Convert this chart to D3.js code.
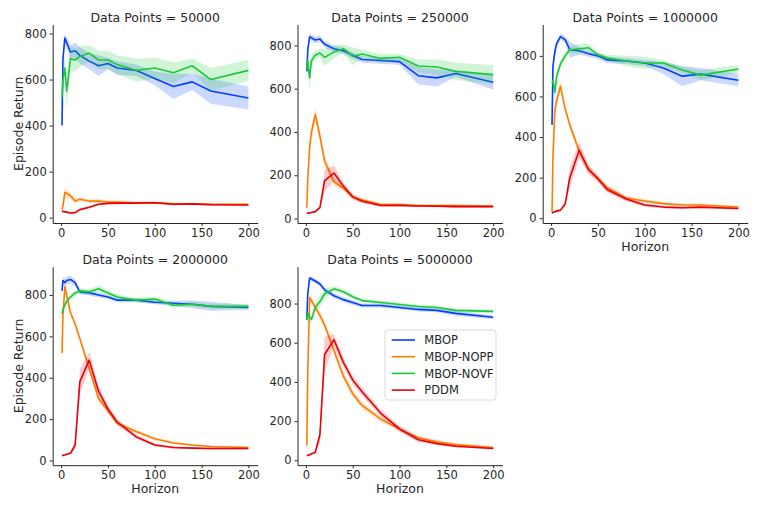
<!DOCTYPE html>
<html>
<head>
<meta charset="utf-8">
<script src="https://cdn.jsdelivr.net/npm/d3@7"></script>
<style>
  body { margin: 0; background: #fff; }
  svg { font-family: "DejaVu Sans", sans-serif; }
</style>
</head>
<body>
<div id="container"></div>
<script>
// horizon values on the x axis
const horizons = [1, 2, 4, 6, 10, 15, 20, 30, 40, 50, 60, 80, 100, 120, 140, 160, 200];
const dataPoints = ["50000", "250000", "1000000", "2000000", "5000000"];
const methods = ["MBOP", "MBOP-NOPP", "MBOP-NOVF", "PDDM"];
const colors = ["#023eff", "#ff7c00", "#1ac938", "#e8000b"];

// one row per panel (50000, 250000, 1000000, 2000000, 5000000)
const mbopMean = [
  [400, 690, 780, 760, 720, 725, 705, 680, 660, 670, 650, 640, 605, 570, 590, 550, 520],
  [680, 780, 840, 835, 825, 830, 805, 785, 775, 755, 735, 730, 725, 660, 650, 670, 630],
  [460, 750, 820, 860, 895, 880, 830, 825, 810, 800, 780, 775, 765, 740, 700, 710, 680],
  [820, 870, 860, 870, 875, 860, 815, 810, 800, 790, 775, 775, 765, 760, 755, 745, 740],
  [720, 850, 930, 925, 915, 900, 870, 840, 820, 805, 790, 790, 780, 770, 765, 750, 730]
];
const mbopSpread = [
  [70, 30, 20, 25, 30, 35, 35, 35, 45, 25, 30, 25, 30, 55, 35, 55, 50],
  [40, 20, 15, 15, 15, 15, 15, 15, 15, 15, 15, 15, 15, 40, 40, 15, 35],
  [100, 40, 30, 20, 15, 15, 40, 20, 15, 15, 15, 15, 15, 30, 50, 30, 30],
  [15, 15, 18, 18, 18, 15, 12, 12, 12, 10, 10, 10, 10, 12, 18, 22, 12],
  [80, 25, 12, 12, 12, 12, 12, 12, 12, 12, 10, 10, 10, 10, 10, 12, 10]
];
const noppMean = [
  [35, 50, 110, 105, 95, 72, 80, 72, 72, 68, 68, 65, 65, 60, 60, 58, 58],
  [50, 180, 330, 400, 480, 380, 265, 170, 140, 100, 85, 65, 65, 60, 60, 60, 58],
  [30, 300, 530, 580, 650, 540, 460, 330, 240, 195, 150, 100, 85, 72, 65, 65, 55],
  [520, 700, 840, 800, 715, 660, 590, 445, 300, 240, 180, 140, 105, 85, 75, 68, 63],
  [75, 450, 830, 815, 780, 740, 690, 560, 430, 340, 280, 210, 160, 115, 95, 80, 65]
];
const noppSpread = [
  [8, 12, 25, 20, 15, 10, 10, 8, 8, 8, 8, 6, 6, 6, 5, 5, 5],
  [8, 20, 25, 30, 35, 30, 25, 20, 15, 12, 10, 8, 8, 6, 6, 6, 5],
  [5, 20, 25, 25, 25, 22, 22, 22, 18, 15, 12, 10, 10, 8, 8, 8, 6],
  [100, 20, 15, 15, 15, 15, 15, 15, 18, 15, 12, 10, 8, 6, 5, 5, 5],
  [30, 30, 20, 20, 20, 20, 20, 25, 25, 20, 18, 15, 12, 10, 10, 8, 6]
];
const novfMean = [
  [520, 600, 650, 550, 690, 685, 700, 715, 685, 685, 665, 640, 650, 630, 660, 600, 640],
  [690, 730, 650, 730, 755, 765, 745, 770, 785, 750, 760, 740, 745, 705, 700, 680, 665],
  [665, 680, 620, 700, 760, 800, 830, 835, 840, 805, 790, 775, 765, 765, 730, 705, 735],
  [710, 730, 750, 770, 790, 810, 820, 815, 830, 810, 790, 775, 780, 750, 755, 745, 745],
  [715, 750, 730, 720, 780, 810, 850, 875, 860, 835, 815, 805, 795, 785, 780, 765, 760]
];
const novfSpread = [
  [10, 40, 50, 80, 55, 50, 45, 35, 40, 40, 40, 50, 45, 45, 30, 50, 45],
  [40, 40, 60, 30, 20, 20, 40, 30, 20, 40, 20, 20, 15, 30, 35, 40, 45],
  [20, 30, 40, 25, 20, 20, 15, 25, 20, 15, 15, 25, 30, 15, 15, 25, 20],
  [12, 12, 12, 12, 14, 14, 14, 14, 16, 14, 12, 12, 12, 12, 12, 12, 12],
  [15, 30, 30, 25, 25, 30, 25, 14, 12, 12, 10, 10, 10, 10, 10, 10, 10]
];
const pddmMean = [
  [25, 28, 25, 24, 20, 22, 35, 45, 58, 62, 63, 63, 65, 58, 60, 56, 55],
  [25, 25, 26, 28, 32, 50, 175, 210, 150, 100, 80, 60, 60, 58, 57, 55, 55],
  [25, 28, 32, 35, 40, 70, 200, 335, 240, 195, 140, 95, 65, 55, 52, 55, 48],
  [25, 25, 27, 30, 35, 75, 380, 485, 335, 250, 185, 115, 75, 63, 60, 58, 58],
  [25, 25, 28, 33, 40, 130, 540, 615, 500, 410, 350, 240, 160, 105, 85, 72, 60]
];
const pddmSpread = [
  [4, 4, 4, 4, 4, 4, 5, 5, 5, 5, 5, 5, 5, 4, 4, 4, 4],
  [4, 4, 4, 4, 5, 10, 50, 35, 15, 12, 10, 6, 6, 5, 5, 5, 4],
  [4, 4, 4, 5, 5, 15, 50, 40, 22, 18, 15, 12, 8, 6, 6, 6, 5],
  [4, 4, 4, 5, 6, 20, 60, 40, 25, 18, 14, 10, 7, 5, 5, 5, 4],
  [4, 4, 4, 5, 5, 40, 90, 30, 25, 22, 20, 18, 15, 12, 8, 6, 5]
];
const xTicks = [0, 50, 100, 150, 200];

let w = 761;
let h = 508;
let ink = "#262626";

let svg = d3.select("#container")
  .append("svg")
    .attr("width", w)
    .attr("height", h);

let colLeft = [52.7, 297.5, 542.7];
let rowTop = [24.5, 266.7];
let pw = 205;
let ph = 198.5;

let means = [mbopMean, noppMean, novfMean, pddmMean];
let spreads = [mbopSpread, noppSpread, novfSpread, pddmSpread];

dataPoints.forEach(function(dp, p) {
  let col = p % 3;
  let row = Math.floor(p / 3);
  let g = svg.append("g")
    .attr("transform", "translate(" + colLeft[col] + "," + rowTop[row] + ")");

  let series = methods.map(function(m, k) {
    return horizons.map(function(hz, i) {
      return { x: hz, y: means[k][p][i], lo: means[k][p][i] - spreads[k][p][i], hi: means[k][p][i] + spreads[k][p][i] };
    });
  });

  // matplotlib-like 5% margins
  let xPad = (200 - 1) * 0.05;
  let x = d3.scaleLinear().domain([1 - xPad, 200 + xPad]).range([0, pw]);
  let yMin = d3.min(series, s => d3.min(s, d => d.lo));
  let yMax = d3.max(series, s => d3.max(s, d => d.hi));
  let yPad = (yMax - yMin) * 0.05;
  let y = d3.scaleLinear().domain([yMin - yPad, yMax + yPad]).range([ph, 0]);

  let area = d3.area().x(d => x(d.x)).y0(d => y(d.lo)).y1(d => y(d.hi));
  let line = d3.line().x(d => x(d.x)).y(d => y(d.y));

  series.forEach(function(s, k) {
    g.append("path")
      .attr("d", area(s))
      .attr("fill", colors[k])
      .attr("fill-opacity", 0.2);
    g.append("path")
      .attr("d", line(s))
      .attr("fill", "none")
      .attr("stroke", colors[k])
      .attr("stroke-width", 1.6)
      .attr("stroke-linejoin", "round");
  });

  let yTicks = d3.range(0, yMax + yPad, 200);
  let yAxis = g.append("g")
    .call(d3.axisLeft(y).tickValues(yTicks).tickSize(3).tickPadding(3).tickSizeOuter(0));
  let xAxis = g.append("g")
    .attr("transform", "translate(0," + ph + ")")
    .call(d3.axisBottom(x).tickValues(xTicks).tickSize(3).tickPadding(3).tickSizeOuter(0));

  [yAxis, xAxis].forEach(function(a) {
    a.selectAll("path, line").attr("stroke", ink).attr("stroke-width", 1);
    a.selectAll("text").attr("fill", ink).style("font-size", "11.5px").style("font-family", "DejaVu Sans, sans-serif");
  });

  g.append("text")
    .attr("x", pw / 2)
    .attr("y", -3)
    .attr("text-anchor", "middle")
    .attr("fill", ink)
    .style("font-size", "12.5px")
    .text("Data Points = " + dp);

  if (col == 0) {
    g.append("text")
      .attr("transform", "translate(" + (18 - colLeft[col] + 4.5) + "," + (ph / 2) + ") rotate(-90)")
      .attr("text-anchor", "middle")
      .attr("fill", ink)
      .style("font-size", "12.5px")
      .text("Episode Return");
  }
  if (row == 1 || col == 2) {
    g.append("text")
      .attr("x", pw / 2)
      .attr("y", ph + 28)
      .attr("text-anchor", "middle")
      .attr("fill", ink)
      .style("font-size", "12.5px")
      .text("Horizon");
  }

  // legend sits in the last panel
  if (p == 4) {
    let lg = svg.append("g").attr("transform", "translate(385,330)");
    lg.append("rect")
      .attr("width", 111)
      .attr("height", 70)
      .attr("rx", 3)
      .attr("fill", "#fff")
      .attr("fill-opacity", 0.8)
      .attr("stroke", "#d0d0d0")
      .attr("stroke-width", 0.8);
    methods.forEach(function(m, k) {
      let ly = 10 + k * 16.7;
      lg.append("line")
        .attr("x1", 6.7).attr("x2", 30)
        .attr("y1", ly).attr("y2", ly)
        .attr("stroke", colors[k])
        .attr("stroke-width", 1.6);
      lg.append("text")
        .attr("x", 39.3)
        .attr("y", ly)
        .attr("dy", "0.36em")
        .attr("fill", ink)
        .style("font-size", "11.5px")
        .text(m);
    });
  }
});
</script>
</body>
</html>
